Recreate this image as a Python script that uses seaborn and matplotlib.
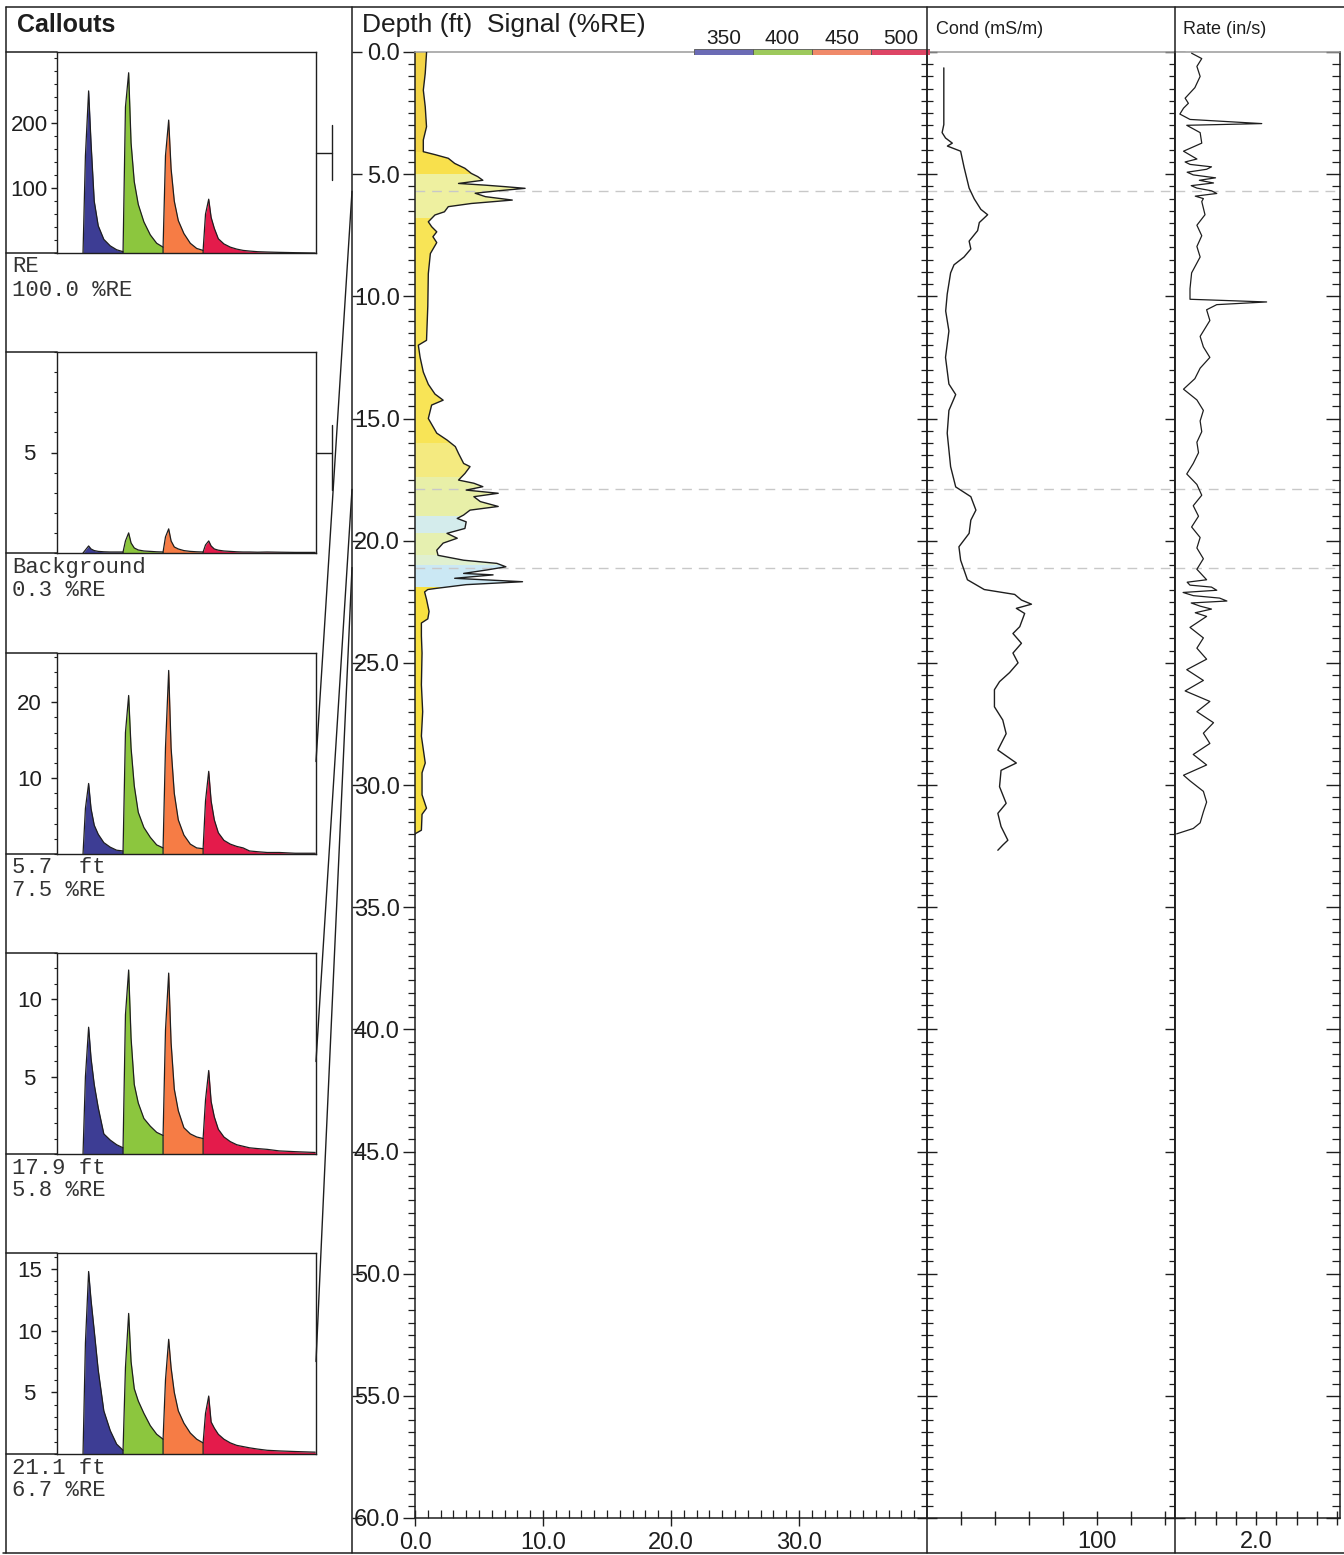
import matplotlib
matplotlib.use("Agg")
import matplotlib.pyplot as plt
import matplotlib.transforms as mtransforms
from matplotlib.lines import Line2D
from matplotlib.patches import ConnectionPatch
from matplotlib.ticker import MultipleLocator
import numpy as np
import seaborn as sns

W, H = 1344, 1555
INK = "#1e1e1e"

# ---------------- callout spectra ----------------
band_start = [344, 394, 444, 494]            # nm, start of each band
band_offset = [0, 3, 7, 10, 14, 19, 26, 34, 42, 50]
tail_offset = [58, 68, 80, 95, 115, 140]     # tail after last band
band_colors = ["#3d3d94", "#8cc63e", "#f67c45", "#e41b4b"]
legend_labels = ["350", "400", "450", "500"]
legend_colors = ["#6b6bb5", "#9dc95c", "#f08a6a", "#de4565"]

callout_names = ["RE", "Background", "5.7  ft", "17.9 ft", "21.1 ft"]
callout_levels = ["100.0 %RE", "0.3 %RE", "7.5 %RE", "5.8 %RE", "6.7 %RE"]
callout_depth = [5.7, 17.9, 21.1]
callout_ymax = [310, 10, 26.5, 13, 16.3]
callout_ticks = [[100, 200], [5], [10, 20], [5, 10], [5, 10, 15]]
callout_minor = [20, 1, 2, 1, 1]

re_blue = [0, 150, 250, 170, 80, 42, 21, 11, 5, 2]
re_green = [2, 225, 278, 170, 110, 75, 48, 28, 15, 9]
re_orange = [9, 150, 205, 130, 80, 50, 30, 15, 7, 4]
re_red = [4, 60, 83, 55, 38, 22, 14, 9, 6, 4]
re_tail = [3, 2, 1.5, 1, 0.5, 0]

bg_blue = [0, 0.15, 0.35, 0.2, 0.12, 0.08, 0.06, 0.05, 0.05, 0.05]
bg_green = [0.05, 0.6, 1.0, 0.5, 0.25, 0.15, 0.1, 0.08, 0.06, 0.05]
bg_orange = [0.05, 0.8, 1.2, 0.6, 0.3, 0.2, 0.12, 0.08, 0.06, 0.05]
bg_red = [0.05, 0.4, 0.6, 0.35, 0.2, 0.14, 0.1, 0.08, 0.06, 0.05]
bg_tail = [0.05, 0.04, 0.05, 0.04, 0.03, 0.03]

s57_blue = [0, 6, 9.3, 6, 3.8, 2.6, 1.5, 0.9, 0.5, 0.4]
s57_green = [0.4, 16, 20.9, 14, 9, 5.5, 3.5, 2.2, 1.2, 0.8]
s57_orange = [0.8, 14, 24.2, 14, 8, 4.5, 2.5, 1.3, 0.8, 0.7]
s57_red = [0.7, 7, 10.9, 7, 4.5, 2.8, 1.8, 1.3, 1.0, 0.8]
s57_tail = [0.4, 0.3, 0.2, 0.2, 0.1, 0.1]

s179_blue = [0, 5, 8.2, 6.2, 4.5, 3.0, 1.3, 0.9, 0.6, 0.4]
s179_green = [0.4, 9, 11.9, 7.5, 4.5, 3.3, 2.3, 1.8, 1.4, 1.2]
s179_orange = [1.2, 8, 11.7, 7.2, 4.2, 2.8, 1.7, 1.3, 1.1, 1.0]
s179_red = [1.0, 3.5, 5.4, 3.4, 2.4, 1.6, 1.1, 0.8, 0.6, 0.5]
s179_tail = [0.4, 0.35, 0.3, 0.2, 0.15, 0.1]

s211_blue = [0, 9, 14.8, 12.5, 10, 6.8, 3.5, 1.9, 0.8, 0.3]
s211_green = [0.3, 7, 11.4, 7.5, 5.3, 4.3, 3.3, 2.3, 1.6, 1.2]
s211_orange = [1.2, 6, 9.3, 7, 5, 3.5, 2.5, 1.7, 1.2, 0.9]
s211_red = [0.9, 3.3, 4.7, 2.6, 2.1, 1.6, 1.2, 0.9, 0.7, 0.6]
s211_tail = [0.5, 0.4, 0.3, 0.25, 0.2, 0.15]

# ---------------- depth logs ----------------
sig_depth = [0.0, 0.05, 0.87, 1.56, 2.24, 3.06, 3.6, 4.08, 4.2, 4.35,
             4.56, 4.76, 4.97, 5.1, 5.25, 5.38, 5.45, 5.51, 5.58, 5.68,
             5.78, 5.92, 6.06, 6.2, 6.33, 6.54, 6.67, 6.95, 7.15, 7.36,
             7.56, 7.8, 8.25, 9.07, 10.4, 11.8, 12.0, 12.5, 13.1, 13.6,
             14.0, 14.25, 14.45, 15.0, 15.6, 15.88, 16.15, 16.43, 16.84, 16.97,
             17.25, 17.52, 17.65, 17.79, 17.93, 18.06, 18.2, 18.4, 18.6, 18.75,
             18.95, 19.09, 19.23, 19.5, 19.7, 19.9, 20.1, 20.39, 20.6, 20.8,
             20.93, 21.07, 21.2, 21.34, 21.4, 21.54, 21.68, 21.8, 21.95, 22.0,
             22.1, 22.4, 22.9, 23.2, 23.37, 23.9, 24.6, 25.9, 27.0, 28.0,
             29.1, 29.5, 30.4, 30.95, 31.2, 31.85, 32.0]
sig_val = [0.9, 0.9, 0.8, 0.65, 0.8, 0.9, 0.65, 0.65, 1.56, 2.6,
           3.1, 3.9, 4.4, 4.9, 5.3, 3.4, 5.5, 7.0, 8.6, 6.5,
           4.7, 5.5, 7.6, 4.4, 2.6, 2.3, 1.56, 1.04, 1.3, 1.7,
           1.4, 1.7, 1.2, 1.04, 1.0, 0.9, 0.26, 0.4, 0.65, 1.04,
           1.56, 2.2, 1.3, 1.04, 1.7, 2.5, 3.15, 3.4, 3.8, 4.3,
           3.9, 3.4, 4.6, 5.3, 4.0, 6.5, 4.6, 5.1, 6.5, 4.3,
           3.8, 3.3, 4.0, 3.9, 2.5, 3.3, 2.2, 1.7, 1.8, 3.8,
           6.4, 7.1, 5.6, 3.8, 6.1, 3.1, 8.4, 4.0, 1.7, 1.0,
           0.75, 0.9, 1.1, 1.0, 0.5, 0.5, 0.55, 0.5, 0.6, 0.5,
           0.8, 0.55, 0.55, 0.9, 0.55, 0.5, 0.0]

zone_top = [0, 4.1, 5.0, 6.8, 16.0, 17.4, 19.0, 19.7, 20.6, 21.0, 21.9]
zone_bottom = [4.1, 5.0, 6.8, 16.0, 17.4, 19.0, 19.7, 20.6, 21.0, 21.9, 33]
zone_color = ["#f3d447", "#f8e04c", "#eef0a0", "#f8e456", "#f4ea80", "#e8efa8",
              "#d4ecec", "#e6f0b0", "#e0f0d0", "#cbe8f4", "#f8e040"]

cond_depth = [0.65, 2.97, 3.3, 3.52, 3.73, 3.85, 4.06, 4.71, 5.57, 6.01,
              6.44, 6.66, 6.98, 7.31, 7.74, 8.06, 8.39, 8.71, 9.04, 9.91,
              10.6, 11.42, 12.5, 13.59, 14.02, 14.67, 15.6, 16.97, 17.8, 18.2,
              18.75, 19.16, 19.7, 20.25, 20.8, 21.6, 22.0, 22.2, 22.43, 22.6,
              22.77, 22.98, 23.52, 23.8, 24.2, 24.6, 25.0, 25.4, 25.77, 26.1,
              26.8, 27.34, 27.9, 28.57, 29.1, 29.4, 30.07, 30.75, 31.16, 31.7,
              32.26, 32.46, 32.67]
cond_val = [9.9, 9.9, 8.9, 10.9, 14.9, 12.0, 19.8, 21.8, 24.8, 27.8,
            31.7, 35.7, 30.8, 29.8, 24.8, 25.8, 21.8, 15.9, 13.9, 11.9,
            11.0, 12.9, 10.9, 12.9, 16.9, 12.9, 11.9, 13.9, 16.9, 25.8,
            28.8, 25.8, 24.8, 18.8, 19.8, 23.8, 33.7, 51.6, 55.6, 61.5,
            52.6, 57.5, 54.6, 50.6, 55.6, 50.6, 53.6, 48.6, 42.7, 39.7,
            39.7, 44.6, 46.6, 41.7, 52.6, 43.6, 42.7, 46.6, 41.7, 43.6,
            47.6, 44.6, 41.7]

rate_depth = [0.05, 0.27, 0.59, 1.0, 1.46, 1.89, 2.1, 2.3, 2.54, 2.76,
              2.93, 3.0, 3.3, 3.73, 4.06, 4.38, 4.5, 4.6, 4.7, 4.8,
              4.92, 5.03, 5.15, 5.25, 5.36, 5.47, 5.57, 5.68, 5.79, 5.9,
              6.0, 6.12, 6.66, 7.09, 7.52, 7.96, 8.39, 9.04, 9.69, 10.12,
              10.23, 10.34, 10.55, 10.99, 11.64, 12.07, 12.5, 12.94, 13.37, 13.8,
              14.24, 14.67, 15.1, 15.54, 15.97, 16.4, 16.84, 17.27, 17.7, 18.14,
              18.57, 19.0, 19.44, 19.87, 20.3, 20.74, 21.17, 21.6, 21.7, 21.82,
              21.9, 22.03, 22.12, 22.25, 22.35, 22.47, 22.55, 22.68, 22.8, 22.95,
              23.1, 23.55, 23.98, 24.4, 24.85, 25.28, 25.72, 26.15, 26.58, 27.0,
              27.45, 27.88, 28.3, 28.75, 29.18, 29.6, 29.83, 30.26, 30.7, 31.1,
              31.55, 31.78, 32.0]
rate_val = [0.41, 0.66, 0.54, 0.62, 0.49, 0.25, 0.33, 0.21, 0.12, 0.37,
            2.14, 0.29, 0.62, 0.66, 0.21, 0.54, 0.25, 0.37, 0.9, 0.78,
            0.3, 0.45, 1.0, 0.6, 0.95, 0.4, 0.54, 0.9, 1.03, 0.5,
            0.7, 0.66, 0.74, 0.54, 0.66, 0.54, 0.62, 0.41, 0.37, 0.37,
            2.26, 1.03, 0.78, 0.86, 0.62, 0.70, 0.86, 0.62, 0.49, 0.21,
            0.54, 0.70, 0.62, 0.66, 0.54, 0.58, 0.45, 0.29, 0.54, 0.66,
            0.45, 0.58, 0.41, 0.62, 0.54, 0.70, 0.54, 0.78, 0.3, 0.37,
            0.9, 1.03, 0.2, 0.45, 1.1, 1.28, 0.4, 0.62, 0.9, 0.5,
            0.78, 0.37, 0.70, 0.54, 0.78, 0.29, 0.70, 0.25, 0.86, 0.54,
            0.95, 0.70, 0.86, 0.45, 0.78, 0.21, 0.37, 0.70, 0.78, 0.70,
            0.62, 0.45, 0.04]

sig_ticks = [0, 10, 20, 30]
sig_tick_labels = ["0.0", "10.0", "20.0", "30.0"]
cond_ticks = [20, 40, 60, 80, 100, 120, 140]
cond_tick_labels = ["", "", "", "", "100", "", ""]
rate_ticks = [0.5, 1.0, 1.5, 2.0, 2.5, 3.0, 3.5, 4.0]
rate_tick_labels = ["", "", "", "2.0", "", "", "", ""]

sns.set_theme(style="ticks")
plt.rcParams["font.family"] = ["Liberation Sans", "DejaVu Sans"]
plt.rcParams["axes.linewidth"] = 1.0

fig = plt.figure(figsize=(W / 100, H / 100), dpi=100)


def px_ax(x0, y0, x1, y1):
    return fig.add_axes([x0 / W, 1 - y1 / H, (x1 - x0) / W, (y1 - y0) / H])


def fig_line(x0, y0, x1, y1, color=INK, lw=1.1):
    fig.add_artist(Line2D([x0 / W, x1 / W], [1 - y0 / H, 1 - y1 / H],
                          transform=fig.transFigure, color=color, lw=lw))


# ---- callout panels ----
spectra = [
    (re_blue, re_green, re_orange, re_red, re_tail),
    (bg_blue, bg_green, bg_orange, bg_red, bg_tail),
    (s57_blue, s57_green, s57_orange, s57_red, s57_tail),
    (s179_blue, s179_green, s179_orange, s179_red, s179_tail),
    (s211_blue, s211_green, s211_orange, s211_red, s211_tail),
]
panel_tops = [52, 352, 653, 953, 1253]
panel_axes = []
for i, top in enumerate(panel_tops):
    ax = px_ax(57, top, 316, top + 201)
    bands = spectra[i]
    for k in range(4):
        xs = [band_start[k]] + [band_start[k] + o for o in band_offset]
        ys = [0] + list(bands[k])
        if k == 3:
            xs += [band_start[k] + o for o in tail_offset]
            ys += list(bands[4])
        ax.fill_between(xs, 0, ys, color=band_colors[k], lw=0)
        ax.plot(xs, ys, color=INK, lw=0.9)
    ax.set_xlim(311.5, 635)
    ax.set_ylim(0, callout_ymax[i])
    ax.set_xticks([])
    ax.set_yticks(callout_ticks[i], [str(t) for t in callout_ticks[i]])
    ax.yaxis.set_minor_locator(MultipleLocator(callout_minor[i]))
    ax.tick_params(axis="y", which="major", direction="out", length=4, width=1,
                   labelsize=16, pad=16, color=INK, labelcolor=INK)
    ax.tick_params(axis="y", which="minor", direction="out", length=2.5, width=0.8, color=INK)
    for lab in ax.get_yticklabels():
        lab.set_horizontalalignment("center")
    for s in ax.spines.values():
        s.set_color(INK)
        s.set_linewidth(1)
    fig_line(6, top, 57, top)
    fig_line(6, top + 201, 57, top + 201)
    fig.text(12 / W, 1 - (top + 215) / H, callout_names[i], family="Liberation Mono",
             fontsize=16, va="center", color="#333333")
    fig.text(12 / W, 1 - (top + 238) / H, callout_levels[i], family="Liberation Mono",
             fontsize=16, va="center", color="#333333")
    panel_axes.append(ax)

# range brackets next to the reference panels
for ax, lo, hi in zip(panel_axes[:2], [0.363, 0.313], [0.637, 0.637]):
    ax.plot([1.062, 1.062], [lo, hi], transform=ax.transAxes, clip_on=False, color=INK, lw=1)
    ax.plot([1.0, 1.062], [0.5, 0.5], transform=ax.transAxes, clip_on=False, color=INK, lw=1)

# ---- log tracks ----
ax_dep = px_ax(352, 52, 415, 1518)
ax_sig = px_ax(415, 52, 927, 1518)
ax_cond = px_ax(927, 52, 1175, 1518)
ax_rate = px_ax(1175, 52, 1340, 1518)

poly = ax_sig.fill_betweenx(sig_depth, 0, sig_val, facecolor="none", edgecolor="none")
clip = poly.get_paths()[0]
for top, bot, col in zip(zone_top, zone_bottom, zone_color):
    band = ax_sig.axhspan(top, bot, color=col, lw=0, zorder=1)
    band.set_clip_path(clip, ax_sig.transData)
sns.lineplot(x=sig_val, y=sig_depth, orient="y", estimator=None, color=INK, lw=1.0,
             ax=ax_sig, zorder=3)
sns.lineplot(x=cond_val, y=cond_depth, orient="y", estimator=None, color=INK, lw=1.0,
             ax=ax_cond, zorder=3)
sns.lineplot(x=rate_val, y=rate_depth, orient="y", estimator=None, color=INK, lw=0.9,
             ax=ax_rate, zorder=3)

for ax in (ax_sig, ax_cond, ax_rate):
    for d in callout_depth:
        ax.axhline(d, color="#c8c8c8", lw=1, ls=(0, (7, 5)), zorder=2)
    ax.set_ylim(60, 0)
    ax.set_xlabel("")
    ax.set_ylabel("")
    ax.yaxis.set_major_locator(MultipleLocator(5))
    ax.yaxis.set_minor_locator(MultipleLocator(0.5))
    for s in ax.spines.values():
        s.set_color(INK)
        s.set_linewidth(1.1)
    ax.spines["top"].set_color("#9a9a9a")

depth_ticks = np.arange(0, 61, 5)
ax_sig.set_yticks(depth_ticks, [f"{d:.1f}" for d in depth_ticks])
ax_sig.set_xlim(0, 40)
ax_sig.set_xticks(sig_ticks, sig_tick_labels)
ax_sig.xaxis.set_minor_locator(MultipleLocator(1))
ax_sig.spines["right"].set_visible(False)
ax_sig.tick_params(axis="y", which="major", direction="out", length=9, width=1,
                   labelsize=17, pad=2, color=INK, labelcolor=INK)
ax_sig.tick_params(axis="y", which="minor", direction="out", length=5, width=0.9, color=INK)
ax_sig.tick_params(axis="x", which="major", direction="inout", length=12, width=1,
                   labelsize=17, pad=4, color=INK, labelcolor=INK)
ax_sig.tick_params(axis="x", which="minor", direction="in", length=6, width=0.9, color=INK)

ax_cond.set_xlim(0, 146)
ax_cond.set_xticks(cond_ticks, cond_tick_labels)
ax_cond.tick_params(axis="y", which="both", left=True, right=True, labelleft=False,
                    direction="inout", color=INK)
ax_cond.tick_params(axis="y", which="major", length=14, width=1)
ax_cond.tick_params(axis="y", which="minor", length=8, width=0.9)
ax_cond.tick_params(axis="x", direction="inout", length=10, width=1, labelsize=17,
                    pad=4, color=INK, labelcolor=INK)

ax_rate.set_xlim(0, 4.07)
ax_rate.set_xticks(rate_ticks, rate_tick_labels)
ax_rate.tick_params(axis="y", which="both", left=False, right=True, labelleft=False,
                    direction="in", color=INK)
ax_rate.tick_params(axis="y", which="major", length=10, width=1)
ax_rate.tick_params(axis="y", which="minor", length=6, width=0.9)
ax_rate.tick_params(axis="x", direction="inout", length=10, width=1, labelsize=17,
                    pad=4, color=INK, labelcolor=INK)

ax_dep.set_ylim(60, 0)
ax_dep.set_yticks(depth_ticks, [])
ax_dep.set_xticks([])
ax_dep.patch.set_alpha(0)
for s in ax_dep.spines.values():
    s.set_visible(False)
ax_dep.tick_params(axis="y", direction="in", length=7, width=1, color=INK)

# ---- colour legend in header ----
ax_leg = px_ax(694, 49, 930, 55)
ax_leg.bar(range(4), [1] * 4, width=1, color=legend_colors, edgecolor="#555555", lw=0.6)
ax_leg.set_xlim(-0.5, 3.5)
ax_leg.set_ylim(0, 1)
ax_leg.xaxis.tick_top()
ax_leg.set_xticks(range(4), legend_labels)
ax_leg.set_yticks([])
ax_leg.tick_params(axis="x", length=0, pad=1, labelsize=15, labelcolor=INK)
for s in ax_leg.spines.values():
    s.set_visible(False)

# ---- frame ----
fig_line(6, 7, 1344, 7)
fig_line(3, 1553, 1344, 1553)
fig_line(6, 7, 6, 1553)
fig_line(352, 7, 352, 1553)
fig_line(927, 7, 927, 1553)
fig_line(1175, 7, 1175, 1553)

fig.text(17 / W, 1 - 25 / H, "Callouts", fontsize=18, weight="bold", va="center", color=INK)
fig.text(362 / W, 1 - 25 / H, "Depth (ft)  Signal (%RE)", fontsize=19, va="center", color=INK)
fig.text(936 / W, 1 - 30 / H, "Cond (mS/m)", fontsize=13, va="center", color=INK)
fig.text(1183 / W, 1 - 30 / H, "Rate (in/s)", fontsize=13, va="center", color=INK)

# ---- connectors from depth track to callouts ----
blend = mtransforms.blended_transform_factory(fig.transFigure, ax_sig.transData)
for d, ax in zip(callout_depth, panel_axes[2:]):
    con = ConnectionPatch(xyA=(352 / W, d), coordsA=blend, xyB=(1, 0.46),
                          coordsB=ax.transAxes, color=INK, lw=1)
    fig.add_artist(con)

fig.savefig("out.png", dpi=100)
